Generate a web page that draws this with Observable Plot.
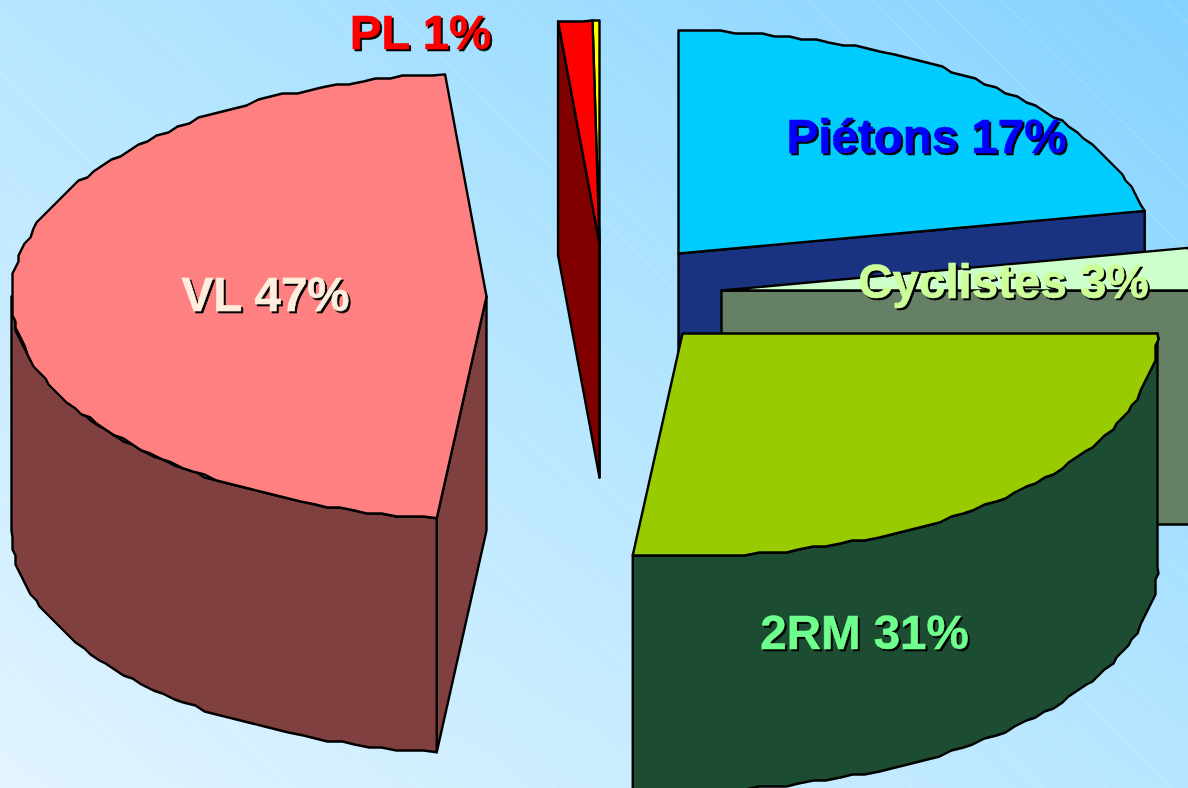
<!DOCTYPE html>
<html><head><meta charset="utf-8">
<script src="https://cdn.jsdelivr.net/npm/d3@7"></script>
<script src="https://cdn.jsdelivr.net/npm/@observablehq/plot@0.6"></script>
<style>html,body{margin:0;padding:0;overflow:hidden}svg{display:block}
svg text{filter:drop-shadow(2.5px 2.5px 0 #000)}</style>
</head><body><div id="c"></div>
<script>
// Slices clockwise from the top of the pie, as drawn (angular share %).
const categories = ["Piétons","Cyclistes","2RM","VL","PL","PL2"];
const drawnShares = [21.94,3.06,26.67,46.94,1.155,0.235];
const labels = ["Piétons 17%","Cyclistes 3%","2RM 31%","VL 47%","PL 1%"];

// Styling and explosion layout
const topColors  = ["#00ccff","#ccffcc","#99cc00","#ff8080","#ff0000","#ffff00"];
const sideColors = ["#1a3380","#668066","#1c4d33","#804040","#800000","#808000"];
const labelColors = ["#0000ff","#ccff99","#6fff8c","#ffeedd","#ff0000"];
const centersX = [678,721,682,486,599,599];
const centersY = [253,290,333,296,243,243];
const labelX = [926,1003,864,265,420];
const labelY = [137,282,633,295,33];
const drawOrder = [5,4,0,1,3,2];
const RX = 475, RY = 223, DEPTH = 234, GRID = 3;

const rad = d => d * Math.PI / 180;
const snap = v => Math.round(v / GRID) * GRID;
let acc = 0;
const slices = drawnShares.map((s, i) => {
  const a0 = acc * 3.6; acc += s;
  return {i, a0, a1: acc * 3.6, cx: centersX[i], cy: centersY[i]};
});
function rim(sl, a, dz = 0) {
  return {x: sl.cx + RX * Math.sin(rad(a)), y: sl.cy - RY * Math.cos(rad(a)) + dz};
}
function arc(sl, from, to, dz = 0) {
  const n = Math.max(1, Math.ceil(Math.abs(to - from) / 1.7));
  const pts = d3.range(n + 1).map(k => rim(sl, from + (to - from) * k / n));
  return pts.map((p, k) => (k === 0 || k === n)
    ? {x: p.x, y: p.y + dz}
    : {x: snap(p.x), y: snap(p.y) + dz});
}
const close = p => [...p, p[0]];
const poly = (pts, fill) => Plot.line(close(pts), {
  x: "x", y: "y", fill, stroke: "black", strokeWidth: 2.4, strokeLinejoin: "round", curve: "linear"
});

const marks = [];
for (const idx of drawOrder) {
  const sl = slices[idx], side = sideColors[idx], c = {x: sl.cx, y: sl.cy};
  const cLow = {x: sl.cx, y: sl.cy + DEPTH};
  // radial walls facing the viewer
  if (Math.sin(rad(sl.a0)) < -1e-6) {
    const r = rim(sl, sl.a0);
    marks.push(poly([c, r, {x: r.x, y: r.y + DEPTH}, cLow], side));
  }
  if (Math.sin(rad(sl.a1)) > 1e-6) {
    const r = rim(sl, sl.a1);
    marks.push(poly([c, r, {x: r.x, y: r.y + DEPTH}, cLow], side));
  }
  // outer wall for the front half of the rim
  const f0 = Math.max(sl.a0, 90), f1 = Math.min(sl.a1, 270);
  if (f1 > f0) {
    marks.push(poly([...arc(sl, f0, f1), ...arc(sl, f0, f1, DEPTH).reverse()], side));
  }
  // top face
  marks.push(poly([c, ...arc(sl, sl.a0, sl.a1)], topColors[idx]));
}
const labelRows = labels.map((t, i) => ({t, x: labelX[i], y: labelY[i], color: labelColors[i]}));
marks.push(Plot.text(labelRows, {x: "x", y: "y", text: "t", fontFamily: "'Liberation Sans', Arial, sans-serif",
  fontWeight: "bold", fontSize: 47.5, textAnchor: "middle", lineAnchor: "middle",
  fill: "color", stroke: "color", strokeWidth: 0.6}));

const chart = Plot.plot({
  width: 1188, height: 788, margin: 0,
  x: {type: "linear", domain: [0, 1188], range: [0, 1188], axis: null},
  y: {type: "linear", domain: [0, 788], range: [0, 788], axis: null},
  style: {background: "repeating-linear-gradient(45deg, rgba(255,255,255,.12) 0 1px, transparent 1px 23px), linear-gradient(to top right, #e2f4ff 0%, #b6e6ff 50%, #84d2ff 100%)"},
  marks
});
document.getElementById("c").append(chart);
</script></body></html>
